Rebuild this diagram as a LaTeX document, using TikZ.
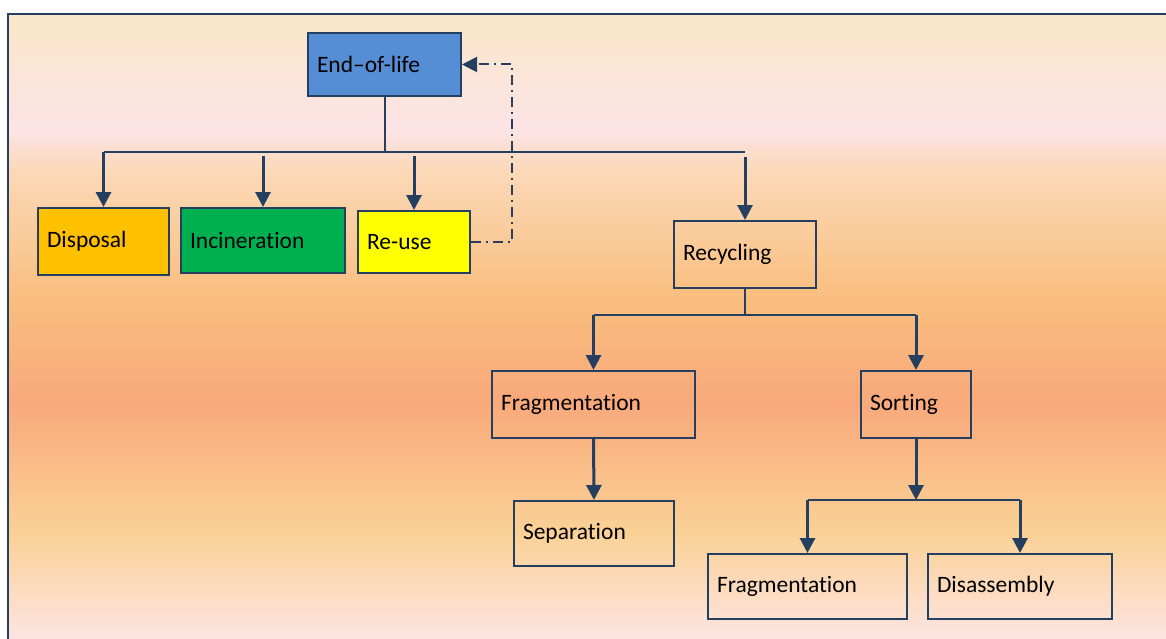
\documentclass[tikz,border=0pt]{standalone}
\usepackage{fontspec}
\setmainfont{Carlito}[Ligatures={TeX,NoCommon}]
\usepackage{tikz}
\usetikzlibrary{arrows.meta}
\definecolor{lineblue}{HTML}{243F60}
\definecolor{eolblue}{HTML}{558ED5}
\definecolor{dispamber}{HTML}{FFC000}
\definecolor{incgreen}{HTML}{00B050}
\definecolor{reyellow}{HTML}{FFFF00}
\definecolor{bgTop}{HTML}{FAE6C8}
\definecolor{bgPink}{HTML}{FDE4E6}
\definecolor{bgPeach}{HTML}{FBD9B8}
\definecolor{bgOrange}{HTML}{F9BE7E}
\definecolor{bgSalmon}{HTML}{F9A97B}
\definecolor{bgSand}{HTML}{FAD196}
\definecolor{bgBottom}{HTML}{FDE4E2}
\pgfdeclareverticalshading{bgfade}{100bp}{color(0bp)=(bgBottom); color(25bp)=(bgBottom);
  color(33.5bp)=(bgSand); color(43.9bp)=(bgSalmon); color(52.2bp)=(bgOrange);
  color(62.6bp)=(bgPeach); color(65.8bp)=(bgPink); color(75bp)=(bgTop); color(100bp)=(bgTop)}
\tikzset{%
  tipA/.tip={Triangle[width=15pt,length=15pt]},
  box/.style={draw=lineblue, line width=2pt, anchor=north west, inner xsep=9pt,
    inner ysep=0pt, align=left, font=\fontsize{23.5}{28}\selectfont},
  busline/.style={draw=lineblue, line width=2pt},
  arr/.style={draw=lineblue, line width=3pt, -tipA},
  dashdot/.style={draw=lineblue, line width=2pt, dash pattern=on 10pt off 5pt on 2pt off 5pt}
}

\begin{document}
\begin{tikzpicture}[x=1pt,y=-1pt]
\useasboundingbox (0,0) rectangle (1166,639);
% background panel
\shade[shading=bgfade] (8,14) rectangle (1166,639);
\draw[lineblue, line width=2.5pt] (8,639) -- (8,14) -- (1166,14);
% first level
\node[box, fill=eolblue, text width=135pt, minimum height=63pt] (eol) at (307,32) {End--of-life};
\node[box, fill=dispamber, text width=113pt, minimum height=67pt] (disp) at (37,207) {Disposal};
\node[box, fill=incgreen, text width=146pt, minimum height=65pt] (incin) at (180,207) {Incineration};
\node[box, fill=reyellow, text width=94pt, minimum height=62pt] (reuse) at (357,210) {Re-use};
\node[box, text width=124pt, minimum height=67pt] (recyc) at (673,220) {Recycling};
% recycling branch
\node[box, text width=185pt, minimum height=67pt] (frag) at (491,370) {Fragmentation};
\node[box, text width=92pt, minimum height=67pt] (sort) at (860,370) {Sorting};
\node[box, text width=142pt, minimum height=65pt] (sep) at (513,500) {Separation};
\node[box, text width=181pt, minimum height=65pt] (fragB) at (707,553) {Fragmentation};
\node[box, text width=166pt, minimum height=65pt] (disas) at (927,553) {Disassembly};
% bus coordinates
\coordinate (busA) at (0,152);
\coordinate (busB) at (0,315);
\coordinate (busC) at (0,500);
\coordinate (loop) at (512,0);
% end-of-life tree
\draw[busline] (eol.south) -- (eol.south |- busA);
\draw[busline] (disp.north |- busA) -- (recyc.north |- busA);
\draw[arr] (disp.north |- busA) -- (disp.north);
\draw[arr] ([yshift=-4pt]incin.north |- busA) -- (incin.north);
\draw[arr] ([yshift=-4pt]reuse.north |- busA) -- (reuse.north);
\draw[arr] ([yshift=-5pt]recyc.north |- busA) -- (recyc.north);
\draw[dashdot, -tipA] (reuse.east) -| (loop |- eol.east) -- (eol.east);
% recycling tree
\draw[busline] (recyc.south) -- (recyc.south |- busB);
\draw[busline] (frag.north |- busB) -- (sort.north |- busB);
\draw[arr] (frag.north |- busB) -- (frag.north);
\draw[arr] (sort.north |- busB) -- (sort.north);
\draw[arr] (frag.south) -- (sep.north);
\draw[arr] (sort.south) -- (sort.south |- busC);
\draw[busline] (fragB.north |- busC) -- (disas.north |- busC);
\draw[arr] (fragB.north |- busC) -- (fragB.north);
\draw[arr] (disas.north |- busC) -- (disas.north);
\end{tikzpicture}
\end{document}
